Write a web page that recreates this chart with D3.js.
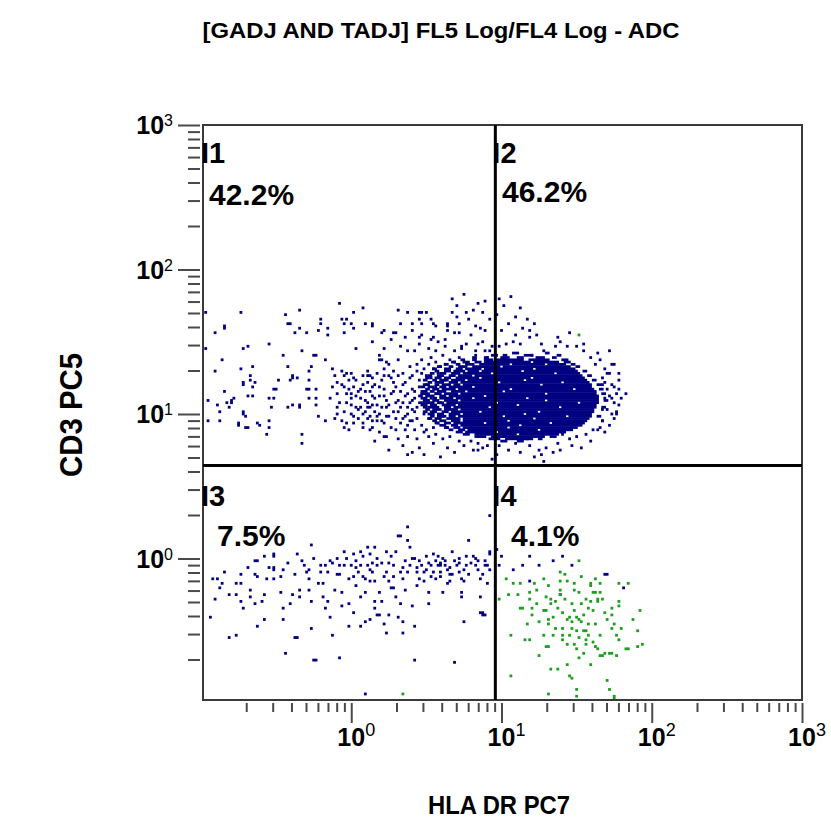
<!DOCTYPE html>
<html><head><meta charset="utf-8">
<script src="https://cdn.jsdelivr.net/npm/d3@7"></script>
<style>body{margin:0;background:#fff;} svg{display:block;}</style>
</head><body>
<svg id="chart" width="831" height="821"></svg>
<script>
// ---------- text ----------
const titleText = "[GADJ AND TADJ] FL5 Log/FL4 Log - ADC";
const xLabel = "HLA DR PC7";
const yLabel = "CD3 PC5";
const xTickExponents = [0, 1, 2, 3];
const yTickExponents = [0, 1, 2, 3];
const minorMultipliers = [2, 3, 4, 5, 6, 7, 8, 9];
const minorDecades = [0.1, 1, 10, 100];
const quadrantNames = ["I1", "I2", "I3", "I4"];
const quadrantPercents = ["42.2%", "46.2%", "7.5%", "4.1%"];
// quadrant cursors (HLA DR, CD3)
const hlaCutoff = 9.1;
const cd3Cutoff = 4.4;

// ---------- events: flat pairs [HLA DR channel, CD3 channel], 64 channels / decade, channel 0 = 0.1 ----------
const blueLowerLeft = [
4,38,5,55,7,55,8,51,9,53,6,46,10,58,12,48,12,29,15,30,15,53,15,48,
17,57,17,53,17,45,18,42,21,50,21,47,23,63,24,63,23,57,24,56,24,34,23,44,26,45,27,37,27,48,27,65,29,60,
31,65,31,66,31,60,31,59,31,55,35,59,34,56,34,49,35,42,35,37,36,22,38,44,39,48,40,29,41,29,41,66,42,50,42,47,43,63,
44,61,45,58,46,59,46,55,46,50,47,45,47,33,47,70,48,19,49,19,50,53,51,61,51,58,52,53,52,47,53,61,53,42,54,45,55,38,55,63,56,62,56,30,57,50,58,57,59,57,
59,61,59,20,60,49,60,43,61,67,61,61,63,55,63,44,63,34,64,61,65,66,65,56,65,40,66,52,67,58,68,67,68,47,68,34,68,61,69,65,69,56,70,36,70,55,70,49,71,69,71,61,72,37,72,66,70,4,
73,62,73,58,74,54,74,69,74,45,74,42,75,64,75,61,75,39,76,49,76,39,77,45,78,56,78,35,79,67,79,31,80,62,80,54,80,39,81,51,82,51,82,61,82,56,83,47,83,67,84,74,85,74,84,38,85,58,85,44,86,36,86,31,
87,63,87,50,88,78,88,72,88,58,89,69,90,64,90,43,91,34,91,64,91,19,92,60,92,58,93,55,94,61,95,58,95,54,96,65,96,59,97,49,97,44,98,61,99,58,99,66,100,63,100,55,
101,61,102,61,102,58,102,56,102,62,103,64,103,49,104,61,105,59,105,53,106,54,107,57,107,67,108,18,109,61,110,64,110,62,111,55,111,49,111,47,112,59,112,36,113,61,114,72,114,57,
116,65,117,64,117,61,118,59,119,55,119,47,120,39,121,39,121,63,122,61,122,53,123,67,123,59,123,83,119,40,120,40,121,61,123,66,
62,64,66,63,72,59,77,62,81,65,86,60,89,61,93,63,97,62,101,65,104,63,106,60,108,63,110,58,113,65,115,62,118,63,120,57,112,54,106,57,98,56,92,52,86,55,79,58,72,54,66,60,58,64,54,58,48,64,40,57,37,62,28,55,20,60
];
const blueLowerRight = [127,61,133,59,137,61,140,65,144,61,150,63,154,65,158,61,172,57,173,57,140,54,153,48,180,51,126,68,128,65];
const blueUpperLeft = [
2,173,17,173,10,167,10,166,6,164,2,157,9,152,18,157,20,158,29,159,6,147,17,148,22,149,3,134,10,138,14,135,13,134,7,132,12,131,18,142,18,141,21,145,21,143,23,142,22,140,20,136,22,136,3,125,8,125,8,129,16,123,18,129,19,127,19,122,25,123,29,135,31,135,31,139,32,139,30,131,29,125,28,119,29,122,33,143,35,154,37,149,36,172,37,168,38,168,42,174,40,164,42,166,45,164,39,144,39,145,41,144,38,143,39,132,37,131,42,131,42,132,43,156,43,119,43,115,45,139,46,139,46,143,47,149,48,154,49,154,49,139,46,135,49,135,49,132,50,165,51,168,51,170,54,166,54,163,53,152,50,127,53,125,46,147,56,148,57,145,58,142,58,131,58,128,59,177,60,170,62,170,61,168,64,168,61,164,65,166,65,173,69,175,70,168,73,168,73,167,66,157,60,147,61,145,61,140,63,143,64,146,65,144,62,137,64,137,64,135,66,136,68,139,69,145,71,145,72,145,73,144,71,142,73,140,66,131,65,127,62,124,61,122,69,128,71,131,73,132,71,126,73,125,76,128,72,121,75,125,77,164,78,165,73,160,76,154,76,152,77,152,78,148,79,151,78,118,90,111,11,133,13,133,18,128,16,124,20,122,24,124
];
const blueCoreFringe = [
76,140,78,136,79,131,80,127,77,125,81,144,82,138,83,133,84,129,85,124,83,121,86,146,86,141,87,136,88,131,87,127,88,123,89,149,89,144,90,139,90,134,91,129,90,125,91,121,92,147,93,143,92,150,94,146,95,148,96,145,94,152,97,150,99,148,100,151,102,149,104,150,106,152,108,151,110,153,112,151,98,153,103,154,80,150,84,152,78,145,82,147,75,132,73,136,74,129,72,127,71,133,70,138,76,120,79,118,84,117,88,118,92,117,95,120,97,118,100,119,103,117,106,118,110,116,112,114,115,116,118,115,86,114,93,113,99,115,105,113,108,111,116,112,120,113,95,110,102,109,80,112,88,110,74,116,69,122,67,130,68,135,65,140,64,128,62,133,60,125,78,157,85,158,91,156,97,157,104,158,111,157,118,159,123,156,122,153,117,154,
55,135,56,140,57,126,58,137,59,133,60,141,61,129,62,146,63,121,63,139,64,132,65,124,66,143,67,138,67,126,68,131,69,141,69,124,70,134,70,129,71,147,72,138,72,131,73,122,74,141,74,135,75,127,75,146,76,136,77,131,77,143,78,124,78,139,79,134,79,127,80,145,80,132,81,122,81,137,82,129,82,142,83,126,83,140,84,134,84,145,85,131,85,138,86,126,86,133,87,142,87,121,88,137,88,128,89,133,89,125,90,145,90,130,91,138,91,135,92,126,92,131,93,140,94,123,94,137,95,128,95,133,96,121,96,141,97,131,97,126,98,144,98,135,99,122,99,129,100,140,100,137,101,124,101,146,102,133,103,127,104,143,105,122,
82,164,83,164,84,174,88,173,85,168,93,173,94,173,96,173,93,170,94,168,90,168,98,170,99,168,100,167,105,168,105,167,107,179,109,176,112,181,107,173,109,171,110,168,113,173,114,170,116,174,118,177,121,178,120,173,117,167,119,166,121,165,123,170,115,163,110,164,108,164,105,165,104,161,99,162,101,160,98,161,93,162,94,163,90,165,93,159,87,162,81,161,88,156,100,156,108,156,113,159,117,156,121,156,124,158,120,160,111,158,
174,156,176,150,178,146,176,140,178,139,177,128,175,135,171,130,171,125,169,121,171,141,173,146,163,159,160,158,157,164,153,160,156,158,151,158,152,162,145,159,146,156,141,154,136,159,133,160,130,159,127,158,134,163,140,165,140,162,
126,172,129,176,131,168,134,171,137,166,139,170,143,163,128,165,132,180,127,179,136,175,142,168,
134,115,140,114,144,112,147,113,150,111,153,112,145,110,162,113,152,115,127,114,122,114,129,118,157,117,160,118,154,119,164,119,146,107,124,108,126,110,118,112,136,111,139,117,131,112,158,114,166,116,142,109,
170,152,172,148,174,146,171,144,175,141,173,139,177,137,174,136,172,135,176,133,178,132,173,130,175,128,171,125,174,123,170,122,176,126,179,135,172,142,168,150,166,153,169,155,163,156,175,150,178,143,181,137,177,129,172,120,167,121
];
// saturated core: [CD3 channel, HLA start, HLA end, HLA start, HLA end, ...]
const denseCoreRows = [
[155,133,135,147,148],
[154,124,126,129,130,138,141,152,153],
[153,116,117,121,122,128,131,135,137,143,146,150,151],
[152,111,112,116,117,121,124,126,137,140,148,154,156],
[151,107,108,113,114,117,119,121,140,142,152,155,157],
[150,104,105,109,110,113,116,119,131,133,146,148,155,158,159],
[149,101,102,106,107,110,113,116,127,129,157,160,161],
[148,99,100,104,106,109,111,113,119,121,141,143,159],
[147,100,101,104,106,108,112,114,118,120,136,138,160,163,164],
[146,98,99,102,104,107,110,112,123,125,150,152,161],
[145,97,98,101,103,106,108,110,115,117,162,165,166],
[144,96,97,100,102,104,106,109,118,120,140,142,163],
[143,95,96,99,100,102,105,107,112,114,137,139,164,167,168],
[142,97,98,100,103,106,109,111,126,128,153,155,165],
[141,95,97,100,101,103,106,108,110,112,144,146,166,169,170],
[140,94,95,97,99,102,104,106,115,117,166],
[139,96,97,99,101,103,108,110,131,133,158,160,167,170,171],
[138,94,96,98,99,101,104,107,112,114,128,130,168],
[137,95,97,100,102,104,109,111,146,148,168,171,172],
[136,93,94,96,99,102,104,106,120,122,169],
[135,94,96,99,100,102,107,109,115,117,138,140,169],
[134,95,97,99,101,104,109,111,146,148,169,172,173],
[133,93,94,96,99,101,103,105,125,127,160,162,169],
[132,94,96,98,100,103,108,110,134,136,168],
[131,95,96,98,101,104,106,108,122,124,152,154,168,171,172],
[130,96,97,99,102,104,109,111,167],
[129,95,96,98,100,103,105,107,118,120,143,145,167],
[128,97,99,101,103,106,110,112,137,139,166],
[127,98,99,101,104,106,108,110,128,130,155,157,166,169,170],
[126,97,98,100,102,105,110,112,141,143,165],
[125,99,100,102,104,107,110,112,130,132,164],
[124,100,101,104,106,108,120,122,148,150,163],
[123,102,104,107,109,111,135,137,162],
[122,104,105,108,110,112,130,132,160],
[121,106,107,110,112,114,143,145,158],
[120,109,111,113,125,127,155],
[119,112,114,117,134,136,152],
[118,117,121,124,146,149,151],
[117,123,127,130,141,144,145],
[116,128,130,135,137]
];
const greenEvents = [
127,46,130,55,131,48,133,53,136,53,132,30,132,12,136,42,137,42,138,28,140,28,140,49,140,46,141,42,141,39,142,53,143,50,144,21,146,41,147,41,146,30,147,25,148,25,148,37,148,35,148,52,149,15,148,4,149,46,149,44,150,30,151,45,152,15,153,50,153,58,153,48,153,54,154,33,154,30,154,28,155,57,156,37,156,54,156,17,157,38,157,12,158,11,158,44,158,33,159,53,159,50,159,26,160,6,160,3,160,38,160,24,161,63,161,49,161,37,161,29,161,20,162,36,163,32,164,46,164,32,164,28,164,26,165,30,165,42,166,53,166,17,166,52,167,41,167,27,168,49,167,49,168,35,168,25,169,46,169,24,169,45,170,49,170,21,170,53,171,21,172,22,173,37,173,10,174,22,175,22,174,6,175,42,175,33,175,39,176,3,176,35,177,30,177,21,178,53,178,45,178,43,178,28,179,33,181,24,182,24,182,53,184,37,186,32,186,25,187,41,188,26,176,2,86,4,161,163,
150,38,152,42,155,46,157,30,159,41,162,44,163,39,165,35,166,45,158,36,154,40,151,33,147,47,144,36,143,44,156,26,160,32,163,22,170,30,172,40,171,46,168,55,162,56,146,55,139,35,135,48
];

// ---------- drawing ----------
const navy = "#000080", green = "#1e9e1e";
const FONT = "'Liberation Sans', Arial, Helvetica, sans-serif";
const svg = d3.select("#chart");
const chan = c => Math.pow(10, c / 64 - 1);
const pairs = a => d3.range(0, a.length, 2).map(i => [a[i], a[i + 1]]);

const x = d3.scaleLog().domain([0.1, 1000]).range([201, 802]);
const y = d3.scaleLog().domain([0.1, 1000]).range([703, 125]);
const frame = {left: 203, right: x(1000), top: y(1000), bottom: 700};

svg.append("defs").append("clipPath").attr("id", "plotClip").append("rect")
  .attr("x", frame.left).attr("y", frame.top)
  .attr("width", frame.right - frame.left).attr("height", frame.bottom - frame.top);

const plot = svg.append("g").attr("clip-path", "url(#plotClip)");

// dense core runs
const runs = [];
denseCoreRows.forEach(r => { for (let i = 1; i < r.length; i += 2) runs.push({cy: r[0], c0: r[i], c1: r[i + 1]}); });
plot.append("g").selectAll("rect").data(runs).join("rect")
  .attr("x", d => x(chan(d.c0 - 0.5)))
  .attr("width", d => x(chan(d.c1 + 0.5)) - x(chan(d.c0 - 0.5)))
  .attr("y", d => y(chan(d.cy + 0.5)) - 0.25)
  .attr("height", d => y(chan(d.cy - 0.5)) - y(chan(d.cy + 0.5)) + 0.5)
  .attr("fill", navy);

const DOT = 2.8;
function dots(arr, color) {
  plot.append("g").selectAll("rect").data(pairs(arr)).join("rect")
    .attr("x", d => x(chan(d[0])) - DOT / 2)
    .attr("y", d => y(chan(d[1])) - DOT / 2)
    .attr("width", DOT).attr("height", DOT)
    .attr("fill", color);
}
dots(blueLowerLeft, navy);
dots(blueLowerRight, navy);
dots(blueUpperLeft, navy);
dots(blueCoreFringe, navy);
dots(greenEvents, green);

// axes
const minorTicks = [];
minorDecades.forEach(d => minorMultipliers.forEach(m => minorTicks.push(d * m)));
const majorX = xTickExponents.map(e => Math.pow(10, e));
const majorY = yTickExponents.map(e => Math.pow(10, e));
const tickColor = "#4a4a4a";

function styleAxis(g) {
  g.select(".domain").remove();
  g.selectAll("line").attr("stroke", tickColor).attr("stroke-width", 2);
  g.selectAll("text").remove();
}
svg.append("g").attr("transform", `translate(0,${y(0.1)})`)
  .call(d3.axisBottom(x).tickValues(minorTicks).tickSize(9).tickFormat("")).call(styleAxis);
svg.append("g").attr("transform", `translate(0,${y(0.1)})`)
  .call(d3.axisBottom(x).tickValues(majorX).tickSize(20).tickFormat("")).call(styleAxis);
svg.append("g").attr("transform", `translate(${frame.left - 3},0)`)
  .call(d3.axisLeft(y).tickValues(minorTicks.filter(v => v > 0.1)).tickSize(12).tickFormat("")).call(styleAxis);
svg.append("g").attr("transform", `translate(${frame.left - 3},0)`)
  .call(d3.axisLeft(y).tickValues(majorY).tickSize(22).tickFormat("")).call(styleAxis);

// x tick labels
xTickExponents.forEach(e => {
  const t = svg.append("text").attr("y", 746).attr("font-family", FONT).attr("fill", "#000");
  const base = t.append("tspan").attr("font-weight", "bold").attr("font-size", 25).text("10");
  t.append("tspan").attr("font-size", 18).attr("dy", -10).text(e);
  const w = base.node().getComputedTextLength();
  t.attr("x", x(Math.pow(10, e)) - w / 2);
});
// y tick labels
yTickExponents.forEach(e => {
  const t = svg.append("text").attr("x", 173).attr("y", y(Math.pow(10, e)) + 9)
    .attr("text-anchor", "end").attr("font-family", FONT).attr("fill", "#000");
  t.append("tspan").attr("font-weight", "bold").attr("font-size", 25).text("10");
  t.append("tspan").attr("font-size", 16).attr("dy", -8).text(e);
});

// frame
svg.append("rect").attr("x", frame.left).attr("y", frame.top)
  .attr("width", frame.right - frame.left).attr("height", frame.bottom - frame.top)
  .attr("fill", "none").attr("stroke", "#3a3a3a").attr("stroke-width", 2);

// quadrant cursors
svg.append("line").attr("x1", x(hlaCutoff)).attr("x2", x(hlaCutoff))
  .attr("y1", frame.top).attr("y2", frame.bottom).attr("stroke", "#000").attr("stroke-width", 3);
svg.append("line").attr("x1", frame.left).attr("x2", frame.right)
  .attr("y1", y(cd3Cutoff)).attr("y2", y(cd3Cutoff)).attr("stroke", "#000").attr("stroke-width", 3);

// quadrant labels
const qx = [frame.left - 2, x(hlaCutoff) - 3, frame.left - 2, x(hlaCutoff) - 3];
const qy = [163, 163, 506, 506];
const px = [209, 502, 217, 511];
const py = [205, 202, 546, 546];
quadrantNames.forEach((n, i) => {
  svg.append("text").attr("x", qx[i]).attr("y", qy[i]).attr("font-family", FONT)
    .attr("font-weight", "bold").attr("font-size", 29).text(n);
  svg.append("text").attr("x", px[i]).attr("y", py[i]).attr("font-family", FONT)
    .attr("font-weight", "bold").attr("font-size", 30).text(quadrantPercents[i]);
});

// titles
svg.append("text").attr("x", 441).attr("y", 38).attr("text-anchor", "middle")
  .attr("font-family", FONT).attr("font-weight", "bold").attr("font-size", 22)
  .attr("textLength", 477).attr("lengthAdjust", "spacingAndGlyphs").text(titleText);
svg.append("text").attr("x", 499).attr("y", 814).attr("text-anchor", "middle")
  .attr("font-family", FONT).attr("font-weight", "bold").attr("font-size", 26)
  .attr("textLength", 142).attr("lengthAdjust", "spacingAndGlyphs").text(xLabel);
svg.append("text").attr("transform", "translate(82,415) rotate(-90)").attr("text-anchor", "middle")
  .attr("font-family", FONT).attr("font-weight", "bold").attr("font-size", 31)
  .attr("textLength", 124).attr("lengthAdjust", "spacingAndGlyphs").text(yLabel);
</script>
</body></html>
